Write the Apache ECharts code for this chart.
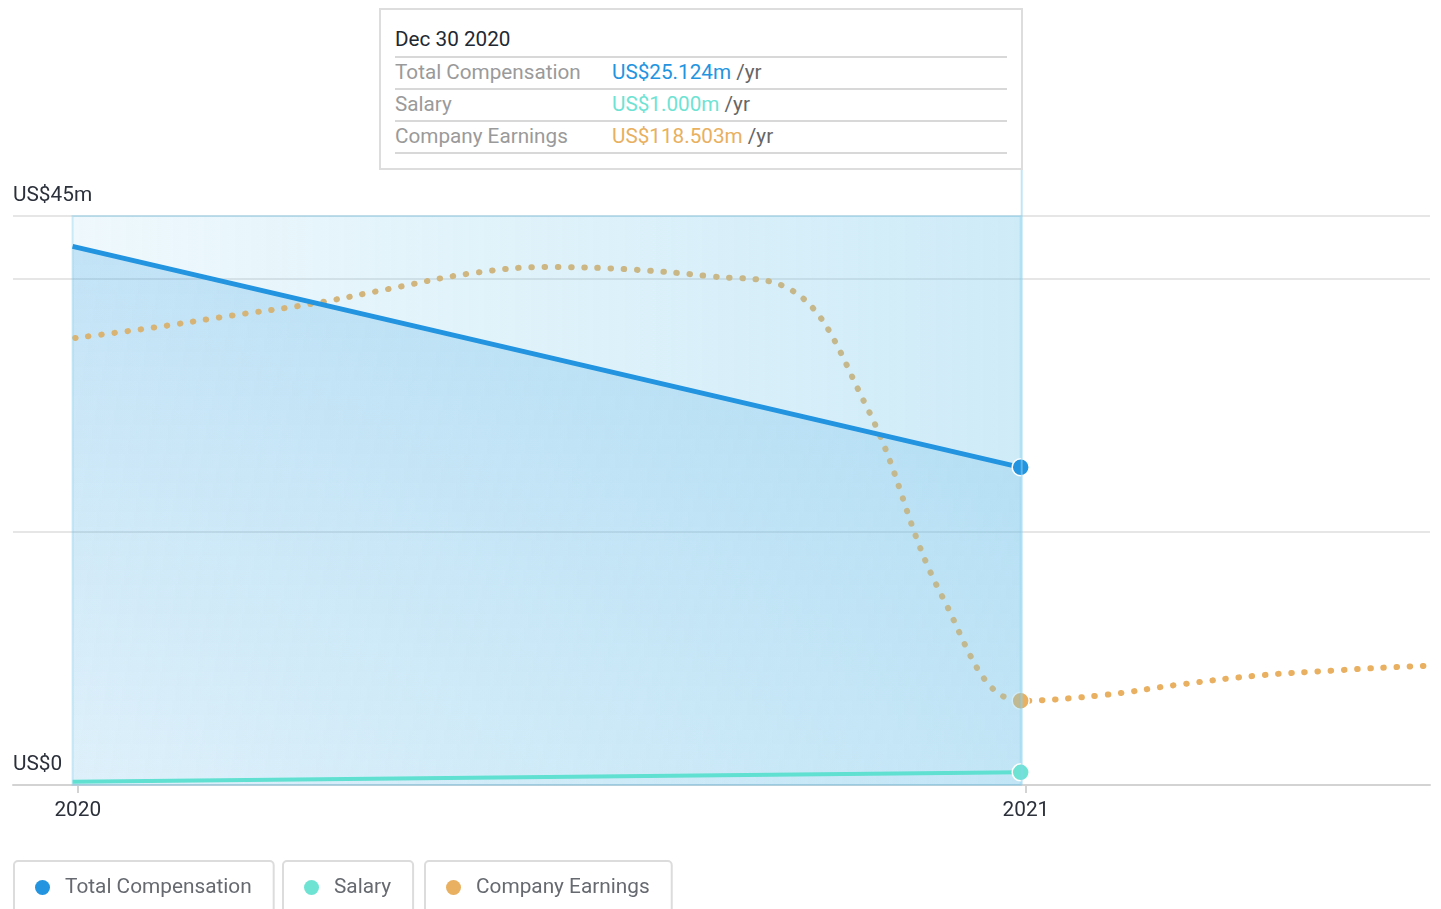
<!DOCTYPE html>
<html>
<head>
    <meta charset="utf-8">
    <title>Compensation vs Earnings</title>
    <script src="https://cdn.jsdelivr.net/npm/echarts@6.0.0/dist/echarts.min.js"></script>
    <style>
        html, body {
            width: 100%;
            height: 100%;
            margin: 0;
            background: #ffffff;
        }
        #main {
            width: 1441px;
            height: 909px;
            position: relative;
        }
        .tips {
            position: absolute;
            top: 8px;
            width: 644px;
            height: 162px;
            box-sizing: border-box;
            border: 2px solid #dddddd;
            background: #ffffff;
            padding: 0 14px;
            font-family: Roboto, 'Noto Sans', sans-serif;
            font-size: 20.7px;
            z-index: 10;
        }
        .tips-title {
            padding-top: 13px;
            height: 33px;
            line-height: 32px;
            color: #222831;
        }
        .tips table {
            width: 100%;
            border-collapse: collapse;
            border-top: 2px solid #d8d8d8;
        }
        .tips td {
            height: 30px;
            line-height: 28px;
            padding: 0 0 2px 0;
            box-sizing: border-box;
            border-bottom: 2px solid #d8d8d8;
            white-space: nowrap;
        }
        .tips td.lbl {
            width: 217px;
            color: #9a9a9a;
        }
        .tips .unit {
            color: #666666;
        }
    </style>
</head>
<body>
    <div id="main"></div>
    <script type="text/javascript">
        // values in US$ millions
        var compDates = ['2019-12-30', '2020-12-30'];
        var compValues = [42.6, 25.124];
        var salaryValues = [0.25, 1.0];

        // company earnings
        var earningsDates = [
            '2019-12-31', '2020-01-31', '2020-02-29', '2020-03-31', '2020-04-30', '2020-05-31',
            '2020-06-30', '2020-07-31', '2020-08-31', '2020-09-30', '2020-10-31', '2020-11-30',
            '2020-12-30', '2021-01-31', '2021-02-28', '2021-03-31', '2021-04-30', '2021-05-31',
            '2021-06-30'
        ];
        var earningsValues = [
            628.5, 643.5, 659.8, 676.3, 697.4, 718.9,
            728.3, 725.1, 715.6, 700.6, 535.7, 262.9,
            118.503, 126.5, 140.6, 153.7, 161.0, 167.0,
            170.1
        ];

        var seriesNames = ['Total Compensation', 'Salary', 'Company Earnings'];
        var seriesColors = ['#2394df', '#6ee3d4', '#e8b060'];
        var yTickLabels = { 0: 'US$0', 45: 'US$45m' };

        var highlightDate = '2020-12-30';
        var highlightLabel = 'Dec 30 2020';

        var myChart = echarts.init(document.getElementById('main'));

        function pointData(dates, values, color) {
            return dates.map(function (d, i) {
                var item = { value: [d, values[i]] };
                if (d === highlightDate) {
                    item.symbol = 'circle';
                    item.symbolSize = 17;
                    item.itemStyle = { color: color, borderColor: '#ffffff', borderWidth: 1.5 };
                }
                return item;
            });
        }

        function legendBox(name, left) {
            return {
                data: [name],
                left: left,
                top: 861,
                orient: 'horizontal',
                icon: 'circle',
                itemWidth: 15,
                itemHeight: 15,
                padding: [16, 22, 16, 21],
                borderColor: '#dcdcdc',
                borderWidth: 2,
                borderRadius: 4,
                itemStyle: { borderWidth: 0 },
                textStyle: {
                    fontSize: 20.8,
                    color: '#666a70',
                    fontFamily: 'Roboto',
                    padding: [0, 0, 0, 10]
                }
            };
        }

        var option = {
            animation: false,
            textStyle: { fontFamily: 'Roboto' },
            grid: {
                left: 13,
                right: 11,
                top: 216,
                bottom: 124,
                outerBoundsMode: 'none',
                containLabel: false
            },
            legend: [
                legendBox(seriesNames[0], 14),
                legendBox(seriesNames[1], 283),
                legendBox(seriesNames[2], 425)
            ],
            xAxis: {
                type: 'time',
                min: '2019-12-07',
                max: '2021-06-06',
                splitNumber: 2,
                minInterval: 365 * 24 * 3600 * 1000,
                axisLine: { lineStyle: { color: '#d3d3d3', width: 2 } },
                axisTick: { show: true, length: 8, lineStyle: { color: '#d3d3d3', width: 2 } },
                splitLine: { show: false },
                axisLabel: {
                    fontSize: 20.8,
                    color: '#2b303a',
                    margin: 15,
                    formatter: function (v) {
                        var d = new Date(v);
                        return (d.getMonth() === 0 && d.getDate() === 1) ? String(d.getFullYear()) : '';
                    }
                }
            },
            yAxis: [{
                type: 'value',
                min: 0,
                max: 45,
                interval: 20,
                axisLine: { show: false },
                axisTick: { show: false },
                splitLine: { lineStyle: { color: '#e6e6e6', width: 2 } },
                axisLabel: {
                    inside: true,
                    margin: 0,
                    fontSize: 20.8,
                    color: '#2b303a',
                    verticalAlign: 'bottom',
                    lineHeight: 24,
                    padding: [0, 0, 8, 0],
                    formatter: function (v) {
                        return yTickLabels[v] || '';
                    }
                }
            }, {
                type: 'value',
                min: 0,
                max: 800,
                show: false,
                splitLine: { show: false }
            }],
            series: [
                {
                    // area under total compensation
                    name: seriesNames[0],
                    type: 'line',
                    z: 1,
                    silent: true,
                    symbol: 'none',
                    itemStyle: { color: seriesColors[0] },
                    lineStyle: { width: 0 },
                    areaStyle: {
                        color: new echarts.graphic.LinearGradient(0, 0, 0, 1, [
                            { offset: 0, color: 'rgba(35,148,223,0.33)' },
                            { offset: 1, color: 'rgba(35,148,223,0.12)' }
                        ])
                    },
                    data: compDates.map(function (d, i) { return [d, compValues[i]]; })
                },
                {
                    name: seriesNames[2],
                    type: 'line',
                    yAxisIndex: 1,
                    z: 2,
                    silent: true,
                    smooth: 0.4,
                    symbol: 'none',
                    showSymbol: true,
                    showAllSymbol: true,
                    itemStyle: { color: seriesColors[2] },
                    lineStyle: { color: seriesColors[2], width: 6, type: [0.5, 12.7], cap: 'round' },
                    data: pointData(earningsDates, earningsValues, seriesColors[2])
                },
                {
                    name: seriesNames[0],
                    type: 'line',
                    z: 4,
                    silent: true,
                    symbol: 'none',
                    showSymbol: true,
                    itemStyle: { color: seriesColors[0] },
                    lineStyle: { color: seriesColors[0], width: 5 },
                    data: pointData(compDates, compValues, seriesColors[0]),
                    markArea: {
                        z: 3,
                        silent: true,
                        itemStyle: {
                            color: new echarts.graphic.LinearGradient(0, 0, 1, 0, [
                                { offset: 0, color: 'rgba(120,200,235,0.12)' },
                                { offset: 1, color: 'rgba(120,200,235,0.36)' }
                            ]),
                            borderColor: 'rgba(120,200,235,0.35)',
                            borderWidth: 2
                        },
                        data: [[{ xAxis: compDates[0] }, { xAxis: highlightDate }]]
                    }
                },
                {
                    name: seriesNames[1],
                    type: 'line',
                    z: 4,
                    silent: true,
                    symbol: 'none',
                    showSymbol: true,
                    itemStyle: { color: seriesColors[1] },
                    lineStyle: { color: '#5fe0d0', width: 4 },
                    data: pointData(compDates, salaryValues, seriesColors[1])
                }
            ]
        };

        myChart.setOption(option);

        // pointer line + tooltip box at the highlighted date
        var px = myChart.convertToPixel({ xAxisIndex: 0 }, highlightDate);
        var pyBottom = myChart.convertToPixel({ yAxisIndex: 0 }, 0);
        var tipBottom = 170;

        myChart.setOption({
            graphic: [{
                type: 'line',
                z: 5,
                silent: true,
                shape: { x1: px + 1, y1: tipBottom, x2: px + 1, y2: pyBottom },
                style: { stroke: 'rgba(140,210,238,0.55)', lineWidth: 2 }
            }]
        });

        var idx = compDates.indexOf(highlightDate);
        var eIdx = earningsDates.indexOf(highlightDate);
        var rows = [
            [seriesNames[0], compValues[idx], seriesColors[0]],
            [seriesNames[1], salaryValues[idx], seriesColors[1]],
            [seriesNames[2], earningsValues[eIdx], seriesColors[2]]
        ];
        var htmlStr = '<div class="tips-title">' + highlightLabel + '</div><table>';
        rows.forEach(function (r) {
            htmlStr += '<tr><td class="lbl">' + r[0] + '</td><td><span style="color:' + r[2] + '">US$' +
                r[1].toFixed(3) + 'm</span> <span class="unit">/yr</span></td></tr>';
        });
        htmlStr += '</table>';
        var div = document.createElement('div');
        div.className = 'tips';
        div.innerHTML = htmlStr;
        div.style.left = (Math.round(px + 2) - 644) + 'px';
        document.getElementById('main').appendChild(div);
    </script>
</body>
</html>
